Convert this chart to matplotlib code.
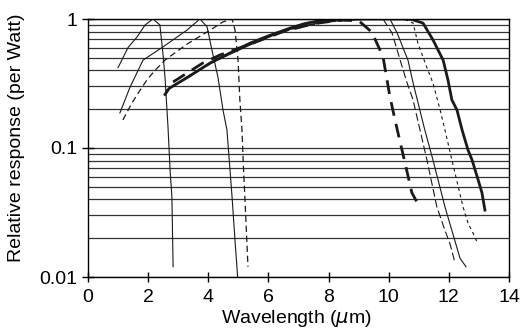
#!/usr/bin/env python3
"""
plot.py

Relative spectral response (per Watt) of several infrared detectors,
log scale, redrawn from a scanned figure.
"""

import matplotlib
matplotlib.use("Agg")
import matplotlib.pyplot as plt
from matplotlib.ticker import FixedLocator, NullFormatter

# short-wave detectors
wl_a = [1.0, 1.33, 1.62, 1.9, 2.16, 2.39, 2.49, 2.56, 2.66, 2.73, 2.79, 2.83]
r_a = [0.42, 0.6, 0.72, 0.9, 1.0, 0.9, 0.545, 0.355, 0.146, 0.067, 0.042, 0.012]

wl_b = [1.06, 1.4, 1.83, 2.49, 3.29, 3.72, 3.96, 4.12, 4.32, 4.49, 4.62, 4.79, 4.89, 4.99]
r_b = [0.187, 0.297, 0.48, 0.607, 0.82, 1.0, 0.87, 0.575, 0.355, 0.197, 0.138, 0.042, 0.019, 0.009]

wl_c = [1.16, 1.46, 1.73, 1.96, 2.23, 2.56, 3.3, 4.06, 4.49, 4.79, 4.89, 4.99, 5.05,
        5.12, 5.17, 5.22, 5.27, 5.32]
r_c = [0.165, 0.223, 0.28, 0.337, 0.40, 0.48, 0.64, 0.82, 0.95, 1.0, 0.82, 0.48, 0.236,
       0.138, 0.07, 0.04, 0.022, 0.012]

# long-wave detectors
wl_g = [2.56, 2.7, 3.33, 4.06, 4.72, 5.39, 6.0, 6.72, 7.2, 7.7, 8.5, 9.5, 10.5, 10.77,
        11.14, 11.47, 11.81, 11.97, 12.1, 12.27, 12.44, 12.54, 12.64, 12.77, 12.97, 13.1, 13.2]
r_g = [0.26, 0.29, 0.355, 0.456, 0.545, 0.65, 0.74, 0.85, 0.92, 0.97, 1.0, 1.0, 1.0, 0.99,
       0.93, 0.69, 0.48, 0.337, 0.236, 0.197, 0.138, 0.115, 0.096, 0.081, 0.057, 0.045, 0.033]

wl_h = [2.83, 3.82, 4.39, 5.4, 6.5, 7.5, 8.4, 9.0, 9.44, 9.81, 10.04, 10.21, 10.38, 10.54,
        10.77, 10.94]
r_h = [0.325, 0.456, 0.526, 0.64, 0.8, 0.92, 0.98, 0.97, 0.79, 0.51, 0.25, 0.165, 0.111,
       0.077, 0.045, 0.038]

wl_d = [2.6, 3.4, 4.3, 5.4, 6.6, 7.6, 8.6, 9.5, 10.04, 10.28, 10.64, 10.81, 11.2, 11.47,
        11.87, 12.37, 12.57]
r_d = [0.28, 0.37, 0.48, 0.63, 0.82, 0.93, 0.98, 1.0, 1.0, 0.78, 0.48, 0.32, 0.138, 0.081,
       0.035, 0.014, 0.012]

wl_e = [2.9, 3.8, 4.8, 5.8, 6.8, 7.8, 8.8, 9.81, 10.11, 10.38, 10.61, 10.81, 11.04, 11.27,
        11.6, 11.87, 12.04, 12.2]
r_e = [0.31, 0.42, 0.56, 0.7, 0.85, 0.94, 0.99, 1.0, 0.78, 0.48, 0.32, 0.236, 0.138, 0.081,
       0.035, 0.023, 0.018, 0.013]

wl_f = [3.0, 4.0, 5.0, 6.0, 7.0, 8.0, 9.0, 10.0, 10.5, 10.81, 10.97, 11.27, 11.47, 11.71,
        11.87, 12.1, 12.47, 12.64, 12.8, 12.97]
r_f = [0.32, 0.44, 0.58, 0.73, 0.86, 0.95, 0.99, 1.0, 1.0, 0.93, 0.65, 0.42, 0.32, 0.197,
       0.138, 0.081, 0.035, 0.026, 0.022, 0.018]

x_ticks = [0, 2, 4, 6, 8, 10, 12, 14]
y_ticks = [0.01, 0.1, 1]
y_tick_labels = ["0.01", "0.1", "1"]


def main():
    plt.rcParams["font.family"] = ["Liberation Sans", "DejaVu Sans"]
    plt.rcParams["font.size"] = 14

    fig = plt.figure(figsize=(5.21, 3.35), dpi=100)
    ax = fig.add_axes([88 / 521, 58 / 335, 421 / 521, 258 / 335])

    ink = "#1a1a1a"
    ax.plot(wl_a, r_a, color=ink, lw=0.8)
    ax.plot(wl_b, r_b, color=ink, lw=0.8)
    ax.plot(wl_c, r_c, color=ink, lw=0.9, linestyle=(0, (5, 3)))
    ax.plot(wl_d, r_d, color=ink, lw=0.8)
    ax.plot(wl_e, r_e, color=ink, lw=0.8, linestyle=(0, (7, 3)))
    ax.plot(wl_f, r_f, color=ink, lw=0.8, linestyle=(0, (3, 3)))
    ax.plot(wl_h, r_h, color=ink, lw=2.0, linestyle=(0, (5, 3)))
    ax.plot(wl_g, r_g, color=ink, lw=2.0)

    ax.set_yscale("log")
    ax.set_xlim(0, 14)
    ax.set_ylim(0.01, 1)

    ax.xaxis.set_major_locator(FixedLocator(x_ticks))
    ax.yaxis.set_major_locator(FixedLocator(y_ticks))
    ax.set_yticklabels(y_tick_labels)
    ax.yaxis.set_minor_formatter(NullFormatter())

    ax.grid(True, which="both", axis="y", color="#333333", lw=0.9)
    ax.tick_params(axis="x", which="major", direction="inout", length=7, width=1, pad=5)
    ax.tick_params(axis="y", which="major", direction="inout", length=8, width=1, pad=4)
    ax.tick_params(axis="y", which="minor", length=0)
    for side in ["left", "right", "bottom", "top"]:
        ax.spines[side].set_color("black")
        ax.spines[side].set_linewidth(1.0)

    ax.set_xlabel(r"Wavelength ($\mu$m)")
    ax.set_ylabel("Relative response (per Watt)")
    ax.xaxis.set_label_coords(0.495, -0.12)
    ax.yaxis.set_label_coords(-0.15, 0.54)

    fig.savefig("out.png", dpi=100)
    plt.close(fig)


if __name__ == "__main__":
    main()
